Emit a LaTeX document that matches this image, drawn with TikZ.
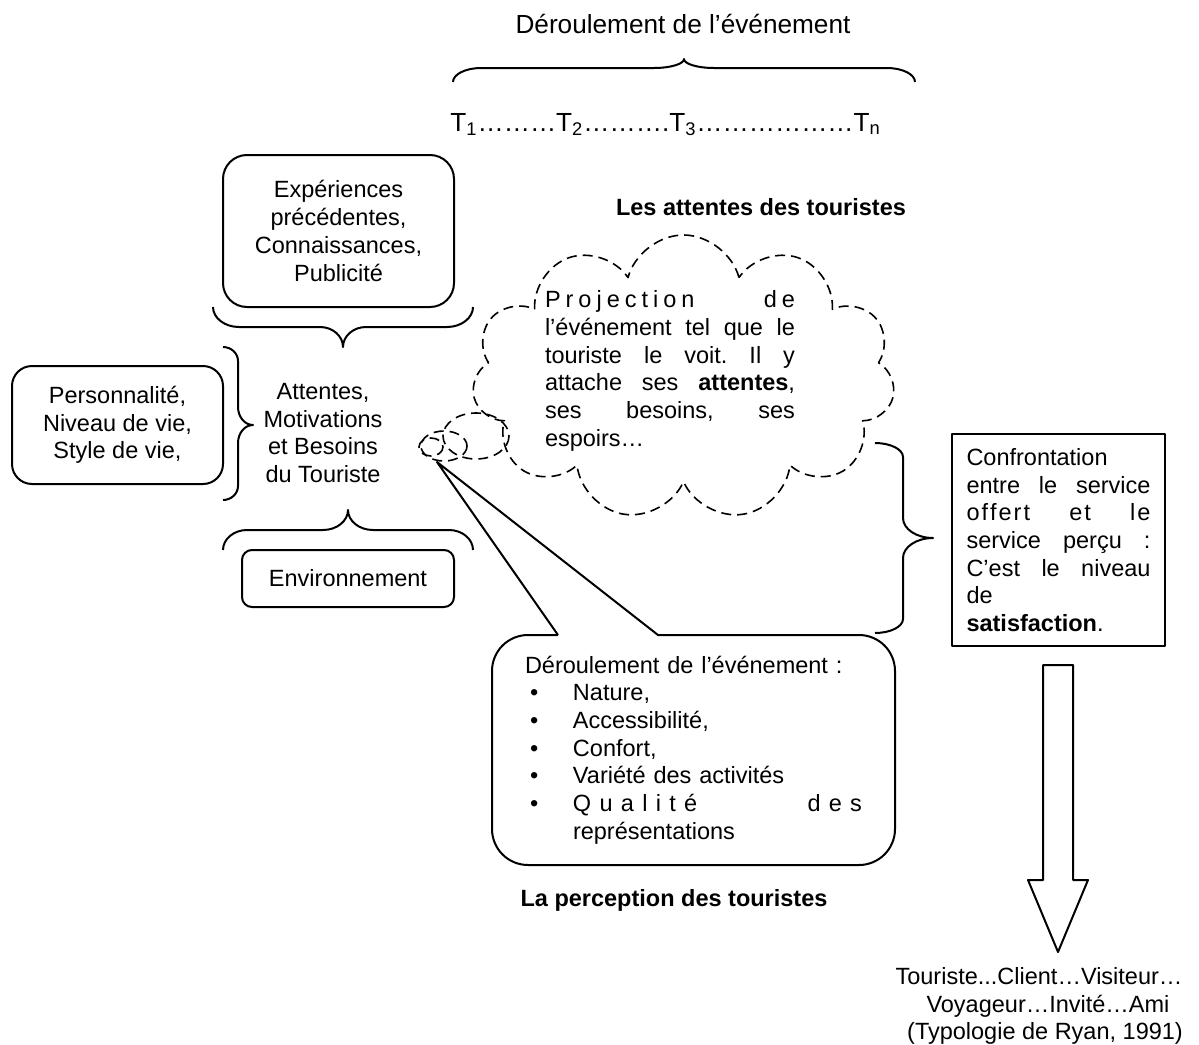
\documentclass[tikz,border=0pt]{standalone}
\usepackage{fontspec}
\setmainfont{Liberation Sans}
\usetikzlibrary{shapes.symbols}
\newcommand\bodyfont{\fontsize{11.75pt}{13.85pt}\selectfont}
\newcommand\titlefont{\fontsize{13.1pt}{15pt}\selectfont}
\newcommand\lsa{\hspace{2.5pt}}
\newcommand\lsb{\hspace{4.15pt}}
\newcommand\lsc{\hspace{1pt}}
\newcommand\js{\hspace{3.27pt plus 1fill}}
\newcommand\itm{\hspace*{2.5pt}\makebox[21.5pt][l]{•}}
% horizontal brace: X0 X1 Xtip Yend Yflat Ytip curl tipwidth
\newcommand\hbrace[8]{%
  \draw[bline] (#1,#4) .. controls (#1,{#4+0.55*(#5-#4)}) and ({#1+0.45*#7},#5) .. ({#1+#7},#5)
   -- ({#3-#8},#5) .. controls ({#3-0.45*#8},#5) and (#3,{#5+0.45*(#6-#5)}) .. (#3,#6)
   .. controls (#3,{#5+0.45*(#6-#5)}) and ({#3+0.45*#8},#5) .. ({#3+#8},#5)
   -- ({#2-#7},#5) .. controls ({#2-0.45*#7},#5) and (#2,{#4+0.55*(#5-#4)}) .. (#2,#4);}
% vertical brace: Y0 Y1 Ytip Xend Xflat Xtip curl tipwidth
\newcommand\vbrace[8]{%
  \draw[bline] (#4,#1) .. controls ({#4+0.55*(#5-#4)},#1) and (#5,{#1+0.45*#7}) .. (#5,{#1+#7})
   -- (#5,{#3-#8}) .. controls (#5,{#3-0.45*#8}) and ({#5+0.45*(#6-#5)},#3) .. (#6,#3)
   .. controls ({#5+0.45*(#6-#5)},#3) and (#5,{#3+0.45*#8}) .. (#5,{#3+#8})
   -- (#5,{#2-#7}) .. controls (#5,{#2-0.45*#7}) and ({#4+0.55*(#5-#4)},#2) .. (#4,#2);}
\begin{document}
\begin{tikzpicture}[x=0.5pt,y=-0.5pt,line join=round,
  bline/.style={line width=1pt},
  cloudline/.style={line width=0.8pt,dash pattern=on 5pt off 3pt},
  rbox/.style={draw,bline,align=center,font=\bodyfont,inner sep=0pt},
  txt/.style={font=\bodyfont,inner sep=0pt}]
\useasboundingbox (0,0) rectangle (1199,1044);

% top
\node[font=\titlefont,anchor=base,inner sep=0pt] (title) at (683,33) {Déroulement de l’événement};
\hbrace{453}{915}{684}{82}{68}{59}{28}{30}
\node[font=\titlefont,anchor=base west,inner sep=0pt] (trow) at (450,131)
  {T\textsubscript{1}………T\textsubscript{2}……….T\textsubscript{3}………………T\textsubscript{n}};

% left group
\node[rbox,rounded corners=12pt,minimum width=115.5pt,minimum height=76pt] (exp) at (338.5,231)
  {Expériences\\précédentes,\\Connaissances,\\Publicité};
\hbrace{213}{473}{343}{307}{327}{347}{26}{23}
\node[rbox,rounded corners=10pt,minimum width=105.5pt,minimum height=59pt] (pers) at (117.5,425)
  {Personnalité,\\Niveau de vie,\\Style de vie,};
\vbrace{347}{500}{425}{223}{238}{253}{14}{18}
\node[txt,align=center] (att) at (323,433) {Attentes,\\Motivations\\et Besoins\\du Touriste};
\hbrace{223}{473}{348}{550}{530}{510}{24}{25}
\node[rbox,rounded corners=5pt,minimum width=106pt,minimum height=28.5pt] (env) at (348,578.5) {Environnement};

% cloud
\node[txt,font=\bodyfont\bfseries,anchor=base] (attl) at (761,215) {Les attentes des touristes};
\node[cloud,draw,cloudline,cloud puffs=11,minimum width=211.5pt,minimum height=142.5pt] (cl) at (683.5,377.5) {};
\draw[cloudline] (476,436) ellipse [x radius=33, y radius=23];
\draw[cloudline] (444,446) ellipse [x radius=23, y radius=15];
\draw[cloudline] (431,447) ellipse [x radius=12, y radius=9];
\node[txt,text width=125pt,align=left] (cltext) at (670,371)
  {\makebox[125pt][s]{P\lsa r\lsa o\lsa j\lsa e\lsa c\lsa t\lsa i\lsa o\lsa n\hfill d\lsa e}\\
   \makebox[125pt][s]{l’événement\js tel\js que\js le}\\
   \makebox[125pt][s]{touriste\js le\js voit.\js Il\js y}\\
   \makebox[125pt][s]{attache\js ses\js \textbf{attentes},}\\
   \makebox[125pt][s]{ses\js besoins,\js ses}\\
   espoirs…};

% callout
\draw[bline] (558,635) -- (437,462) -- (658,635) -- (700,635) [rounded corners=18pt]
  -- (895,635) -- (895,865) -- (492,865) -- (492,635) -- (558,635);
\node[txt,text width=168.5pt,align=left] (calltext) at (693.5,750)
  {Déroulement de l’événement :\\
   \itm Nature,\\
   \itm Accessibilité,\\
   \itm Confort,\\
   \itm Variété des activités\\
   \itm\makebox[144.5pt][s]{Q\lsb u\lsb a\lsb l\lsb i\lsb t\lsb é\hfill d\lsb e\lsb s}\\
   \hspace*{24pt}représentations};
\node[txt,font=\bodyfont\bfseries,anchor=base] (perc) at (674,906) {La perception des touristes};

% right
\vbrace{443}{633}{538}{875}{903}{933}{14}{20}
\node[draw,bline,font=\bodyfont,text width=92pt,align=left,inner xsep=7.25pt,inner ysep=0pt,minimum height=106pt] (sat) at (1058.5,540)
  {Confrontation\\
   \makebox[92pt][s]{entre\js le\js service}\\
   \makebox[92pt][s]{o\lsc f\lsc f\lsc e\lsc r\lsc t\js e\lsc t\js l\lsc e}\\
   \makebox[92pt][s]{service\js perçu\js :}\\
   \makebox[92pt][s]{C’est\js le\js niveau}\\
   de\\
   \textbf{satisfaction}.};
\draw[bline] (1043,665) -- (1073,665) -- (1073,880) -- (1088,880) -- (1058,952) -- (1028,880) -- (1043,880) -- cycle;
\node[txt,align=center] (typ) at (1039,1006)
  {Touriste...Client…Visiteur…\\\hspace*{9pt}Voyageur…Invité…Ami\\\hspace*{6pt}(Typologie de Ryan, 1991)};
\end{tikzpicture}
\end{document}
